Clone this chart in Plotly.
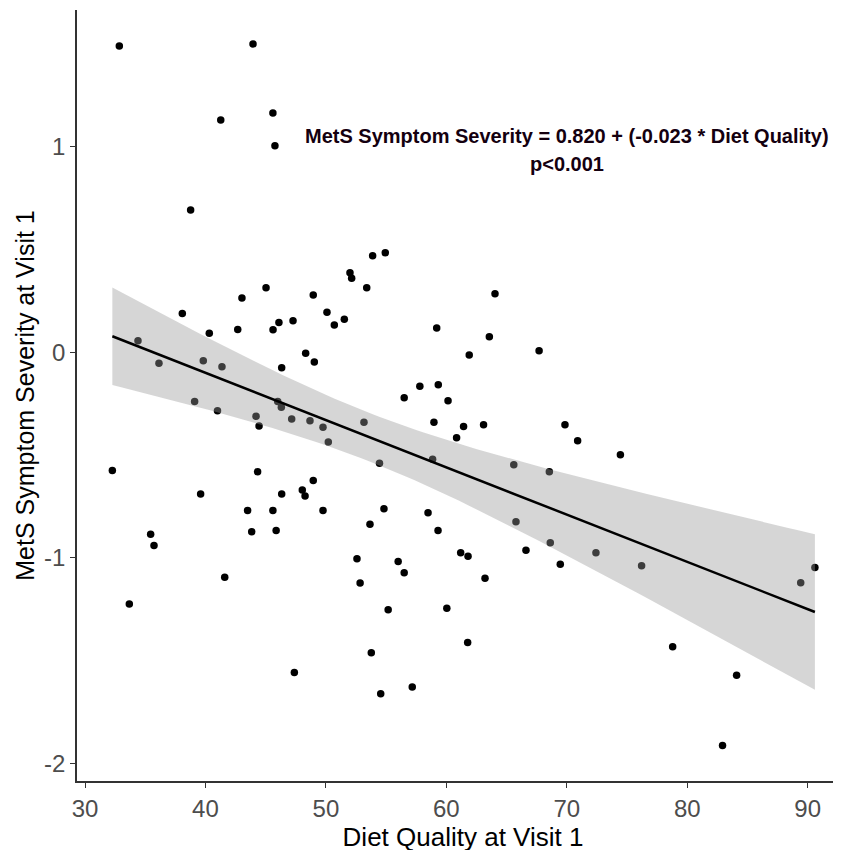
import numpy as np
import plotly.graph_objects as go

# ---- data ----
diet_quality = [
    32.85, 43.95, 41.27, 45.60, 45.77, 38.77, 53.88, 54.93, 52.00, 52.14,
    53.39, 45.03, 43.03, 48.95, 38.08, 50.09, 46.10, 47.27, 42.68, 45.61,
    50.70, 51.53, 40.32, 34.40, 36.14, 48.32, 49.04, 39.82, 41.37, 46.33,
    39.10, 41.00, 46.00, 46.30, 44.20, 44.45, 47.16, 48.68, 49.76, 50.20,
    53.16, 54.45, 32.27, 44.33, 48.95, 39.60, 46.33, 48.04, 48.27, 43.50,
    45.60, 49.76, 53.66, 35.45, 35.73, 43.84, 45.87, 41.60, 52.58, 52.84,
    33.68, 53.77, 47.38, 54.55, 64.04, 59.20, 63.57, 61.90, 67.70, 57.80,
    59.33, 56.50, 60.14, 58.97, 61.43, 63.09, 60.85, 69.85, 70.90, 74.45,
    58.86, 65.60, 68.55, 54.82, 58.48, 59.31, 65.78, 68.63, 72.42, 76.21,
    66.61, 69.46, 61.19, 61.80, 56.00, 56.50, 63.21, 55.17, 60.04, 61.77,
    57.17, 89.42, 90.60, 78.79, 84.10, 82.93,
]
mets_severity = [
    1.490, 1.500, 1.130, 1.164, 1.005, 0.692, 0.470, 0.484, 0.387, 0.360,
    0.314, 0.314, 0.264, 0.278, 0.189, 0.194, 0.145, 0.153, 0.111, 0.110,
    0.132, 0.160, 0.092, 0.056, -0.054, -0.005, -0.048, -0.041, -0.070, -0.075,
    -0.240, -0.285, -0.240, -0.268, -0.312, -0.359, -0.325, -0.333, -0.365, -0.437,
    -0.340, -0.540, -0.575, -0.582, -0.624, -0.690, -0.690, -0.670, -0.700, -0.770,
    -0.770, -0.770, -0.837, -0.886, -0.940, -0.873, -0.867, -1.095, -1.005, -1.123,
    -1.225, -1.462, -1.558, -1.662, 0.285, 0.118, 0.075, -0.014, 0.007, -0.165,
    -0.158, -0.221, -0.236, -0.340, -0.361, -0.353, -0.416, -0.353, -0.431, -0.499,
    -0.521, -0.547, -0.581, -0.762, -0.781, -0.867, -0.825, -0.927, -0.976, -1.039,
    -0.963, -1.032, -0.976, -0.992, -1.018, -1.073, -1.100, -1.253, -1.246, -1.412,
    -1.629, -1.121, -1.047, -1.433, -1.572, -1.913,
]

# regression reported on the chart
intercept = 0.820
slope = -0.023
t_crit = 1.983  # 97.5% t quantile, df ~ 104

x_ticks = [30, 40, 50, 60, 70, 80, 90]
y_ticks = [-2, -1, 0, 1]

eq_text = "MetS Symptom Severity = 0.820 + (-0.023 * Diet Quality)"
p_text = "p<0.001"
x_title = "Diet Quality at Visit 1"
y_title = "MetS Symptom Severity at Visit 1"

# ---- fitted line and 95% confidence band ----
x = np.array(diet_quality)
y = np.array(mets_severity)
n = len(x)
resid = y - (intercept + slope * x)
s = np.sqrt(np.sum(resid ** 2) / (n - 2))
xbar = x.mean()
sxx = np.sum((x - xbar) ** 2)
xs = np.linspace(x.min(), x.max(), 80)
fit = intercept + slope * xs
half = t_crit * s * np.sqrt(1.0 / n + (xs - xbar) ** 2 / sxx)
upper = fit + half
lower = fit - half

FONT = "Liberation Sans, Arial, sans-serif"

fig = go.Figure()
fig.add_trace(go.Scatter(
    x=diet_quality, y=mets_severity, mode="markers",
    marker=dict(color="black", size=7.5, line=dict(width=0)),
    showlegend=False, hoverinfo="x+y",
))
fig.add_trace(go.Scatter(
    x=np.concatenate([xs, xs[::-1]]), y=np.concatenate([upper, lower[::-1]]),
    mode="lines", fill="toself", fillcolor="rgba(153,153,153,0.4)",
    line=dict(width=0), showlegend=False, hoverinfo="skip",
))
fig.add_trace(go.Scatter(
    x=xs, y=fit, mode="lines", line=dict(color="black", width=2.5),
    showlegend=False, hoverinfo="skip",
))

fig.add_annotation(x=70, y=1.052, xref="x", yref="y", text=eq_text,
                   showarrow=False, xanchor="center", yanchor="middle",
                   font=dict(family=FONT, size=20, color="#14000f", weight="bold"))
fig.add_annotation(x=70, y=0.915, xref="x", yref="y", text=p_text,
                   showarrow=False, xanchor="center", yanchor="middle",
                   font=dict(family=FONT, size=20, color="#14000f", weight="bold"))

axis_common = dict(
    showgrid=False, zeroline=False, showline=True, linecolor="#333333",
    linewidth=1.6, ticks="outside", ticklen=5, tickwidth=1.4,
    tickcolor="#333333", tickfont=dict(family=FONT, size=24, color="#4D4D4D"),
)

fig.update_xaxes(
    range=[29.336, 93.43], tickvals=x_ticks, ticktext=[str(v) for v in x_ticks],
    title=dict(text=x_title, font=dict(family=FONT, size=26, color="black"), standoff=0),
    **axis_common,
)
fig.update_yaxes(
    range=[-2.0861, 1.6652], tickvals=y_ticks, ticktext=[str(v) for v in y_ticks],
    title=dict(text=y_title, font=dict(family=FONT, size=25, color="black"), standoff=2),
    **axis_common,
)

fig.update_layout(
    width=841, height=850,
    margin=dict(l=69, r=0, t=2, b=77, autoexpand=False),
    plot_bgcolor="white", paper_bgcolor="white",
    font=dict(family=FONT),
)

fig.write_html("out.html")
